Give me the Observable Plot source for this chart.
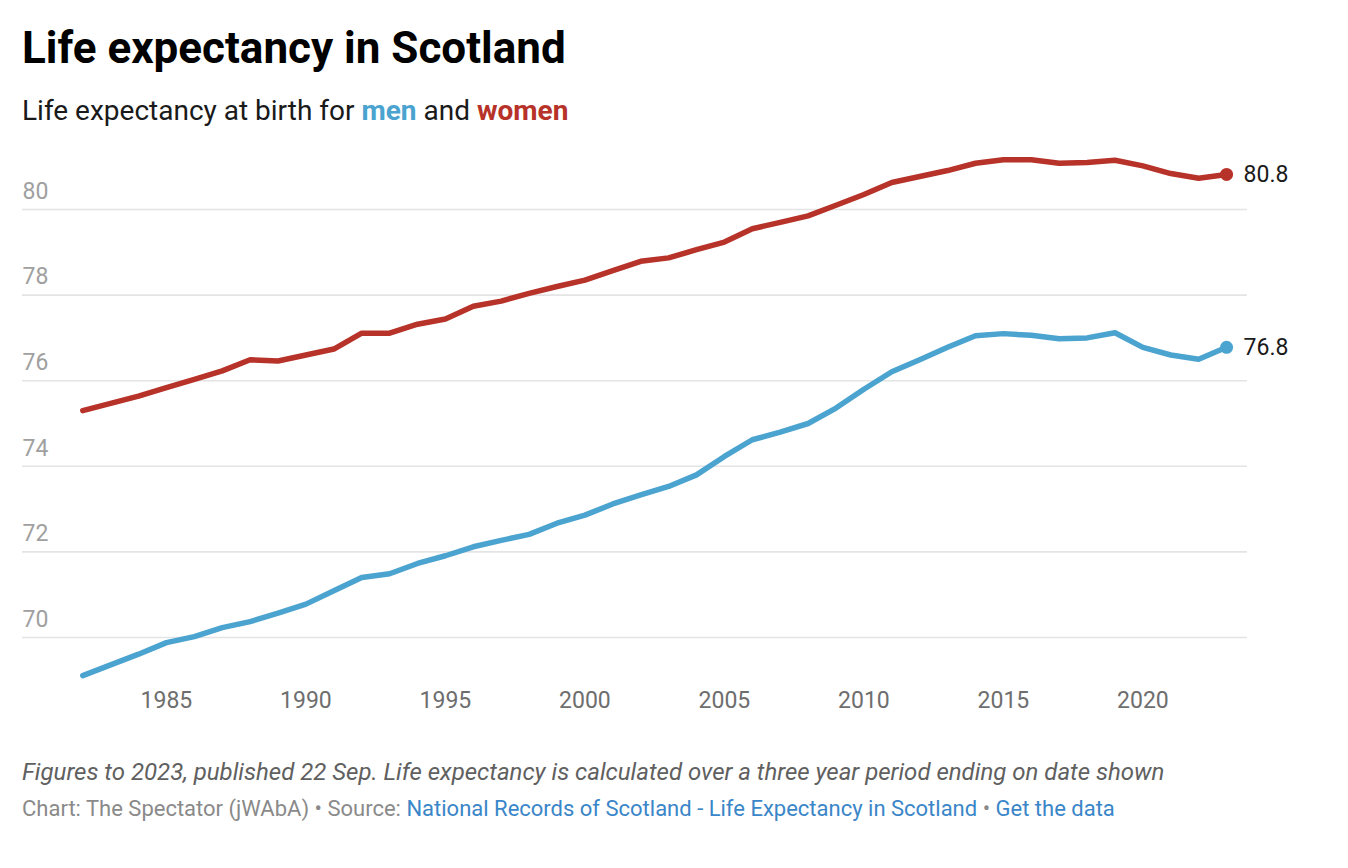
<!DOCTYPE html>
<html>
<head>
<meta charset="utf-8">
<script src="https://cdn.jsdelivr.net/npm/d3@7"></script>
<script src="https://cdn.jsdelivr.net/npm/@observablehq/plot@0.6"></script>
<style>
  html, body { margin: 0; padding: 0; background: #fff; }
  body { width: 1348px; height: 868px; position: relative; font-family: Roboto, "Noto Sans", sans-serif; overflow: hidden; }
  .abs { position: absolute; left: 22px; white-space: nowrap; }
  #title { top: 26px; font-size: 44px; line-height: 44px; font-weight: 700; color: #000; }
  #subtitle { top: 97px; font-size: 28px; line-height: 28px; color: #1a1a1a; }
  #subtitle .men { color: #4ba3cf; font-weight: 700; }
  #subtitle .women { color: #b73229; font-weight: 700; }
  #chart { position: absolute; left: 0; top: 140px; }
  #caption { top: 760px; font-size: 24px; line-height: 24px; font-style: italic; color: #606060; }
  #source { top: 798px; font-size: 22px; line-height: 22px; color: #8a8a8a; }
  #source a { color: #3a86c8; text-decoration: none; }
</style>
</head>
<body>
<div id="title" class="abs">Life expectancy in Scotland</div>
<div id="subtitle" class="abs">Life expectancy at birth for <span class="men">men</span> and <span class="women">women</span></div>
<div id="chart"></div>
<div id="caption" class="abs">Figures to 2023, published 22 Sep. Life expectancy is calculated over a three year period ending on date shown</div>
<div id="source" class="abs">Chart: The Spectator (jWAbA) • Source: <a>National Records of Scotland - Life Expectancy in Scotland</a> • <a>Get the data</a></div>
<script>
const years = [1982,1983,1984,1985,1986,1987,1988,1989,1990,1991,1992,1993,1994,1995,1996,1997,1998,1999,2000,2001,2002,2003,2004,2005,2006,2007,2008,2009,2010,2011,2012,2013,2014,2015,2016,2017,2018,2019,2020,2021,2022,2023];
const women = [75.30,75.47,75.64,75.84,76.03,76.23,76.49,76.46,76.60,76.74,77.11,77.11,77.32,77.44,77.74,77.86,78.04,78.20,78.35,78.57,78.79,78.87,79.06,79.24,79.55,79.70,79.85,80.10,80.35,80.63,80.77,80.91,81.08,81.16,81.16,81.08,81.10,81.15,81.02,80.84,80.73,80.82];
const men = [69.11,69.36,69.61,69.88,70.02,70.23,70.37,70.57,70.78,71.09,71.40,71.49,71.73,71.91,72.12,72.27,72.41,72.67,72.86,73.12,73.33,73.53,73.80,74.23,74.62,74.80,75.00,75.36,75.80,76.21,76.49,76.78,77.05,77.10,77.06,76.98,77.00,77.12,76.78,76.60,76.50,76.78];
const endLabels = ["80.8", "76.8"];
const yTicks = [70,72,74,76,78,80];
const xTicks = [1985,1990,1995,2000,2005,2010,2015,2020];
const colors = {Women: "#b73229", Men: "#4ba3cf"};

const data = [];
years.forEach((yr, i) => {
  data.push({year: yr, value: women[i], series: "Women"});
  data.push({year: yr, value: men[i], series: "Men"});
});
const last = [
  {year: years[years.length-1], value: women[women.length-1], series: "Women", label: endLabels[0]},
  {year: years[years.length-1], value: men[men.length-1], series: "Men", label: endLabels[1]}
];

const chart = Plot.plot({
  width: 1348,
  height: 590,
  marginLeft: 22,
  marginRight: 101,
  marginTop: 69,
  marginBottom: 93,
  style: {fontFamily: "Roboto, sans-serif", fontSize: "23px", background: "transparent", overflow: "visible"},
  x: {domain: [1979.84, 2023.75]},
  y: {domain: [70, 80]},
  marks: [
    Plot.ruleY(yTicks, {stroke: "#e4e4e4", strokeWidth: 1.6}),
    Plot.axisY({ticks: yTicks, tickSize: 0, tickPadding: 0, textAnchor: "start", dx: 0, dy: -18, fill: "#a0a0a0", label: null, fontSize: 23}),
    Plot.axisX({ticks: xTicks, tickSize: 0, tickPadding: 54, tickFormat: d => String(d), fill: "#6e6e6e", label: null, fontSize: 23}),
    Plot.line(data, {x: "year", y: "value", z: "series", stroke: d => colors[d.series], strokeWidth: 5.5, strokeLinejoin: "round", strokeLinecap: "round"}),
    Plot.dot(last, {x: "year", y: "value", r: 6.5, fill: d => colors[d.series], stroke: null}),
    Plot.text(last, {x: "year", y: "value", text: "label", dx: 17, textAnchor: "start", fill: "#1a1a1a", fontSize: 23})
  ]
});
document.getElementById("chart").appendChild(chart);
</script>
</body>
</html>
